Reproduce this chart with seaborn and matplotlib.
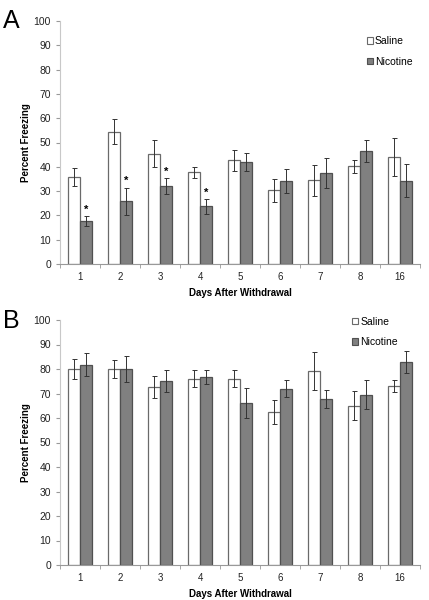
import matplotlib
matplotlib.use("Agg")
import matplotlib.pyplot as plt
import numpy as np
import pandas as pd
import seaborn as sns
from matplotlib.patches import Patch

# 데이터 — 그림에서 읽은 값
days = ["1", "2", "3", "4", "5", "6", "7", "8", "16"]
groups = ["Saline", "Nicotine"]

a_saline = [35.7, 54.5, 45.4, 37.7, 42.7, 30.3, 34.4, 40.2, 43.9]
a_saline_err = [3.7, 5.0, 5.6, 2.3, 4.3, 4.7, 6.5, 2.8, 7.8]
a_nicotine = [17.7, 25.8, 32.1, 23.7, 41.8, 34.3, 37.4, 46.5, 34.2]
a_nicotine_err = [2.0, 5.6, 3.3, 3.0, 3.7, 5.0, 6.2, 4.5, 6.8]
a_stars = ["*", "*", "*", "*", "", "", "", "", ""]

b_saline = [80.0, 80.0, 72.8, 76.0, 76.0, 62.4, 79.3, 65.0, 73.0]
b_saline_err = [4.0, 3.5, 4.5, 3.5, 3.5, 5.0, 7.8, 6.0, 2.4]
b_nicotine = [81.8, 80.0, 75.2, 76.6, 66.2, 72.0, 67.8, 69.5, 82.9]
b_nicotine_err = [4.8, 5.3, 4.5, 2.8, 6.0, 3.4, 3.8, 6.0, 4.5]
b_stars = [""] * 9

FILL = {"Saline": "white", "Nicotine": "#808080"}
EDGE = {"Saline": "#6a6a6a", "Nicotine": "#505050"}

plt.rcParams["font.family"] = ["Liberation Sans", "DejaVu Sans"]


def draw_panel(ax, saline, saline_err, nicotine, nicotine_err, stars, legend_xy):
    df = pd.DataFrame({
        "Day": days * 2,
        "Group": ["Saline"] * len(days) + ["Nicotine"] * len(days),
        "Value": saline + nicotine,
        "Err": saline_err + nicotine_err,
    })
    sns.barplot(data=df, x="Day", y="Value", hue="Group", order=days,
                hue_order=groups, palette=FILL, errorbar=None, width=0.6,
                linewidth=0.9, legend=False, ax=ax)
    # 막대마다 테두리 색과 오차 막대
    bars = [p for p in ax.patches if p.get_height() > 0]
    for gi, g in enumerate(groups):
        sub = df[df["Group"] == g]
        for di, (val, err) in enumerate(zip(sub["Value"], sub["Err"])):
            bar = bars[gi * len(days) + di]
            bar.set_edgecolor(EDGE[g])
            cx = bar.get_x() + bar.get_width() / 2
            ax.errorbar(cx, val, yerr=err, fmt="none", ecolor="#333333",
                        elinewidth=0.7, capsize=1.8, capthick=0.7)
            if g == "Nicotine" and stars[di]:
                ax.text(cx, val + err + 0.6, stars[di], ha="center",
                        va="bottom", fontsize=8, fontweight="bold")

    ax.set_ylim(0, 100)
    ax.set_xlim(-0.5, len(days) - 0.5)
    ax.set_yticks(np.arange(0, 101, 10))
    ax.set_xticks(np.arange(-0.5, len(days), 1), minor=True)
    ax.tick_params(axis="x", which="major", length=0, labelsize=7, pad=6,
                   colors="#222222")
    ax.tick_params(axis="x", which="minor", length=3, color="#999999")
    ax.tick_params(axis="y", length=3, color="#999999", labelsize=7.5,
                   colors="#222222")
    for s in ["top", "right"]:
        ax.spines[s].set_visible(False)
    ax.spines["left"].set_color("#c8c8c8")
    ax.spines["bottom"].set_color("#999999")
    ax.set_xlabel("Days After Withdrawal", fontsize=7, fontweight="bold",
                  labelpad=4)
    ax.set_ylabel("Percent Freezing", fontsize=7, fontweight="bold",
                  labelpad=2)

    handles = [Patch(facecolor=FILL[g], edgecolor=EDGE[g], linewidth=0.8,
                     label=g) for g in groups]
    ax.legend(handles=handles, loc="upper left", bbox_to_anchor=legend_xy,
              frameon=False, fontsize=7.5, handlelength=0.6, handleheight=0.6,
              handletextpad=0.2, labelspacing=1.0, borderaxespad=0)


fig = plt.figure(figsize=(4.29, 6.0), dpi=100)
ax_a = fig.add_axes([60 / 429, 336 / 600, 360 / 429, 243 / 600])
ax_b = fig.add_axes([60 / 429, 35 / 600, 360 / 429, 245 / 600])

draw_panel(ax_a, a_saline, a_saline_err, a_nicotine, a_nicotine_err, a_stars,
           (0.84, 0.955))
draw_panel(ax_b, b_saline, b_saline_err, b_nicotine, b_nicotine_err, b_stars,
           (0.80, 1.03))

fig.text(3 / 429, 1 - 28 / 600, "A", fontsize=18)
fig.text(3 / 429, 1 - 328 / 600, "B", fontsize=18)

fig.savefig("out.png", dpi=100)
